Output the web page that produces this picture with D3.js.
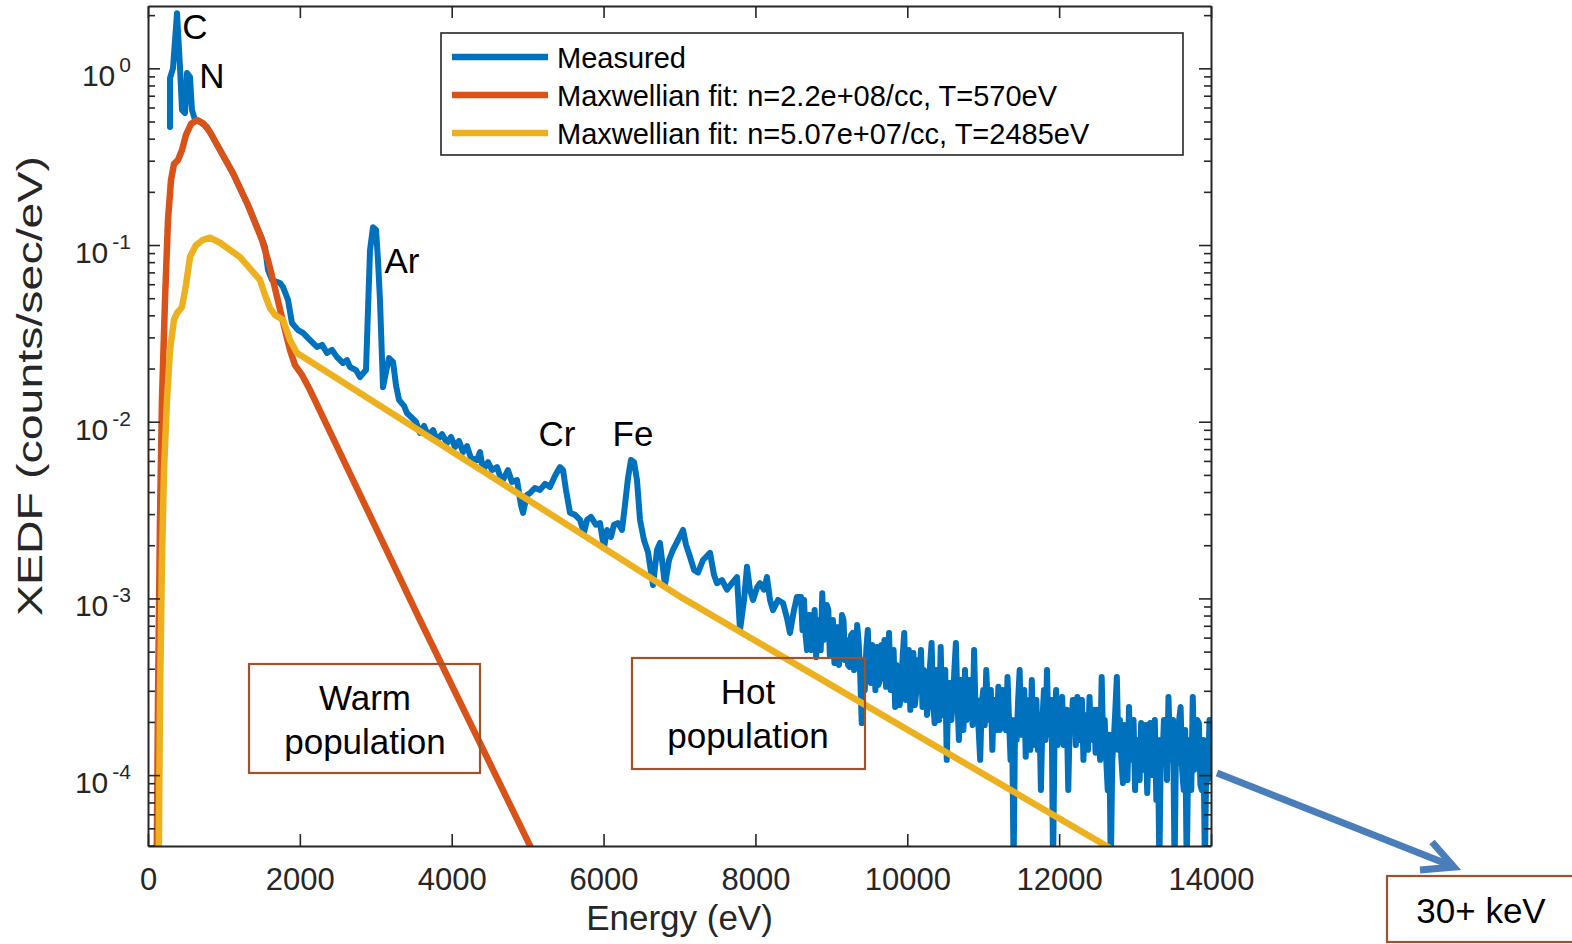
<!DOCTYPE html>
<html><head><meta charset="utf-8">
<script src="https://cdn.jsdelivr.net/npm/d3@7"></script>
<style>
html,body{margin:0;padding:0;background:#fff;}
svg{display:block;font-family:"Liberation Sans",Arial,sans-serif;}
</style></head>
<body>
<svg id="chart" width="1572" height="944"></svg>
<script>
// ---------- data ----------
// measured spectrum, low-energy part
const measuredEnergyLow = [290,290,329,382,421,448,487,514,553,579,619,685,777,948,1119,1317,1488,1541,1580,1633,1738,1778,1844,1896,1976,2041,2134,2226,2292,2357,2423,2489,2568,2621,2660,2739,2792,2871,2924,2963,3003,3029,3055,3095,3134,3174,3227,3266,3306,3372,3411,3477,3530,3582,3635,3688,3754,3806,3872,3938,3991,4043,4096,4149,4201,4254,4333,4373,4412,4478,4531,4597,4636,4675,4741,4794,4860,4912,4939,4991,5031,5097,5163,5229,5294,5360,5426,5466,5505,5558,5624,5690,5742,5782,5834,5900,5953,6005,6045,6098,6137,6190,6243,6282,6322,6361,6401,6440,6480,6532,6585,6651,6704,6743,6809,6862,6914,6980,7046,7086,7138,7191,7244,7310,7402,7454,7494,7560,7625,7691,7757,7797,7850,7889,7928,7968,8021,8060,8113,8152,8192,8231,8297,8363,8415,8455,8508,8547];
const measuredXEDFLow = [0.465,0.881,1.00,2.05,1.02,0.581,0.558,0.940,0.893,0.581,0.510,0.497,0.466,0.345,0.255,0.168,0.112,0.0975,0.0723,0.0634,0.0610,0.0578,0.0489,0.0362,0.0330,0.0318,0.0290,0.0265,0.0272,0.0245,0.0255,0.0232,0.0215,0.0223,0.0204,0.0196,0.0179,0.0196,0.0937,0.126,0.122,0.0822,0.0489,0.0157,0.0191,0.0229,0.0218,0.0161,0.0133,0.0123,0.0112,0.0105,0.00997,0.00863,0.00946,0.00830,0.00897,0.00787,0.00851,0.00757,0.00820,0.00719,0.00778,0.00673,0.00728,0.00622,0.00607,0.00673,0.00532,0.00591,0.00532,0.00553,0.00493,0.00468,0.00532,0.00456,0.00468,0.00338,0.00305,0.00385,0.00395,0.00422,0.00411,0.00445,0.00428,0.00493,0.00554,0.00532,0.00411,0.00305,0.00297,0.00278,0.00235,0.00278,0.00289,0.00261,0.00267,0.00193,0.00244,0.00223,0.00261,0.00267,0.00244,0.00338,0.00481,0.00608,0.00591,0.00468,0.00278,0.00214,0.00183,0.00119,0.00188,0.00206,0.00119,0.00165,0.00188,0.00214,0.00244,0.00201,0.00172,0.00145,0.00140,0.00165,0.00181,0.00136,0.00122,0.00127,0.00112,0.00122,0.00132,0.000662,0.000980,0.00151,0.00112,0.000980,0.00115,0.00122,0.00112,0.00132,0.000980,0.000859,0.000980,0.000942,0.000775,0.000637,0.000859,0.00102];
// measured spectrum, high-energy part (20 eV bins)
const measuredEnergyHigh = [
8600,8620,8640,8660,8680,8700,8720,8740,8760,8780,
8800,8820,8840,8860,8880,8900,8920,8940,8960,8980,
9000,9020,9040,9060,9080,9100,9120,9140,9160,9180,
9200,9220,9240,9260,9280,9300,9320,9340,9360,9380,
9400,9420,9440,9460,9480,9500,9520,9540,9560,9580,
9600,9620,9640,9660,9680,9700,9720,9740,9760,9780,
9800,9820,9840,9860,9880,9900,9920,9940,9960,9980,
10000,10020,10040,10060,10080,10100,10120,10140,10160,10180,
10200,10220,10240,10260,10280,10300,10320,10340,10360,10380,
10400,10420,10440,10460,10480,10500,10520,10540,10560,10580,
10600,10620,10640,10660,10680,10700,10720,10740,10760,10780,
10800,10820,10840,10860,10880,10900,10920,10940,10960,10980,
11000,11020,11040,11060,11080,11100,11120,11140,11160,11180,
11200,11220,11240,11260,11280,11300,11320,11340,11360,11380,
11400,11420,11440,11460,11480,11500,11520,11540,11560,11580,
11600,11620,11640,11660,11680,11700,11720,11740,11760,11780,
11800,11820,11840,11860,11880,11900,11920,11940,11960,11980,
12000,12020,12040,12060,12080,12100,12120,12140,12160,12180,
12200,12220,12240,12260,12280,12300,12320,12340,12360,12380,
12400,12420,12440,12460,12480,12500,12520,12540,12560,12580,
12600,12620,12640,12660,12680,12700,12720,12740,12760,12780,
12800,12820,12840,12860,12880,12900,12920,12940,12960,12980,
13000,13020,13040,13060,13080,13100,13120,13140,13160,13180,
13200,13220,13240,13260,13280,13300,13320,13340,13360,13380,
13400,13420,13440,13460,13480,13500,13520,13540,13560,13580,
13600,13620,13640,13660,13680,13700,13720,13740,13760,13780,
13800,13820,13840,13860,13880,13900,13920,13940,13960,13980,
14000];
const measuredXEDFHigh = [
0.00102,0.000662,0.000979,0.000621,0.000510,0.000805,0.000805,0.000510,0.000581,0.000860,
0.000465,0.000707,0.000755,0.000510,0.00107,0.000581,0.000637,0.000917,0.000860,0.000478,
0.000545,0.000755,0.000431,0.000662,0.000688,0.000420,0.000510,0.000805,0.000755,0.000448,
0.000581,0.000420,0.000409,0.000621,0.000637,0.000393,0.000478,0.000707,0.000559,0.000369,
0.000197,0.000448,0.000303,0.000510,0.000662,0.000393,0.000332,0.000545,0.000478,0.000303,
0.000531,0.000324,0.000345,0.000545,0.000448,0.000581,0.000316,0.000448,0.000637,0.000303,
0.000393,0.000510,0.000243,0.000420,0.000393,0.000249,0.000303,0.000478,0.000637,0.000266,
0.000345,0.000510,0.000234,0.000393,0.000491,0.000249,0.000303,0.000448,0.000345,0.000510,
0.000243,0.000393,0.000369,0.000219,0.000266,0.000420,0.000559,0.000266,0.000197,0.000393,
0.000303,0.000205,0.000531,0.000219,0.000266,0.000393,0.000122,0.000303,0.000332,0.000205,
0.000266,0.000393,0.000559,0.000266,0.000158,0.000345,0.000266,0.000180,0.000393,0.000205,
0.000234,0.000345,0.000266,0.000192,0.000510,0.000219,0.000266,0.000180,0.000122,0.000249,
0.000303,0.000192,0.000393,0.000249,0.000205,0.000303,0.000139,0.000266,0.000266,0.000180,
0.000316,0.000180,0.000205,0.000303,0.000266,0.000180,0.000359,0.000205,0.000122,0.000205,
0.00003,0.000205,0.000158,0.000266,0.000393,0.000169,0.000234,0.000303,0.000127,0.000266,
0.000205,0.000139,0.000345,0.000148,0.000205,0.000266,0.000139,0.000219,0.0000823,0.000205,
0.000303,0.000158,0.000393,0.000169,0.000205,0.000266,0.00003,0.000180,0.000303,0.000148,
0.000205,0.000266,0.000277,0.000148,0.000158,0.000234,0.0000823,0.000205,0.000180,0.000266,
0.000266,0.000148,0.000277,0.000158,0.000205,0.000266,0.000122,0.000219,0.000205,0.000139,
0.000277,0.000169,0.000158,0.000234,0.000134,0.000234,0.000205,0.000122,0.000359,0.000148,
0.000205,0.000122,0.0000823,0.000169,0.00003,0.000122,0.000158,0.000234,0.000359,0.000139,
0.000205,0.000122,0.0000903,0.000192,0.000158,0.0000938,0.000243,0.000122,0.000122,0.000205,
0.0000823,0.000158,0.000158,0.0000938,0.000197,0.000107,0.000122,0.000192,0.0000792,0.000148,
0.000197,0.000100,0.000158,0.000205,0.0000723,0.000158,0.00003,0.000158,0.000117,0.000205,
0.000205,0.0000938,0.000277,0.000139,0.000122,0.000205,0.00003,0.000158,0.000117,0.000205,
0.000243,0.000107,0.0000823,0.000180,0.00003,0.000122,0.000158,0.0000823,0.000277,0.000107,
0.000122,0.000205,0.000197,0.0000879,0.0000823,0.000158,0.00003,0.000139,0.0000938,0.000205,
0.000158];

// warm Maxwellian fit (T=570 eV)
const warmEnergy = [105,132,158,184,224,263,303,342,395,448,500,566,645,724,817,948,1119,1317,1501,1580,1646,1725,1804,1870,1936,2028,2134,3582,5163];
const warmXEDF   = [0.00001,0.000267,0.00277,0.0133,0.0489,0.138,0.233,0.287,0.303,0.345,0.420,0.484,0.510,0.490,0.436,0.345,0.255,0.168,0.107,0.0822,0.0634,0.0457,0.0330,0.0255,0.0209,0.0184,0.0151,0.000755,0.0000305];

// hot Maxwellian fit (T=2485 eV)
const hotEnergy = [132,158,184,211,250,290,342,382,448,500,553,632,724,817,948,1212,1475,1541,1607,1672,1778,1870,1962,7046,12801];
const hotXEDF   = [0.00001,0.000266,0.00165,0.00533,0.0133,0.0255,0.0377,0.0412,0.0446,0.0594,0.0855,0.100,0.107,0.110,0.103,0.0855,0.0634,0.0521,0.0440,0.0402,0.0377,0.0290,0.0245,0.001,0.0000358];

const legendLabels = ["Measured","Maxwellian fit: n=2.2e+08/cc, T=570eV","Maxwellian fit: n=5.07e+07/cc, T=2485eV"];
const seriesColors = ["#0072BD","#D95319","#EDB120"];

const xTickValues = [0,2000,4000,6000,8000,10000,12000,14000];
const yTickValues = [1e-4,1e-3,1e-2,1e-1,1];
const yTickExponents = ["-4","-3","-2","-1","0"];

const elementNames    = ["C","N","Ar","Cr","Fe"];
const elementEnergies = [619,843,3345,5387,6388];
const elementLevels   = [1.46,0.774,0.0695,0.00728,0.00728];

// ---------- layout ----------
const svg = d3.select("#chart");
const L=148, R=1211, T=6, B=846;
const axisColor = "#262626";
const x = d3.scaleLinear().domain([0,14000]).range([L,R]);
const y = d3.scaleLog().domain([3.97e-5,2.253]).range([B,T]);

svg.append("defs").append("clipPath").attr("id","plotclip")
  .append("rect").attr("x",L).attr("y",T).attr("width",R-L).attr("height",B-T);

// ---------- data lines ----------
const plot = svg.append("g").attr("clip-path","url(#plotclip)");
const line = d3.line().x(d=>x(d[0])).y(d=>y(d[1]));
const series = [
  d3.zip(measuredEnergyLow.concat(measuredEnergyHigh), measuredXEDFLow.concat(measuredXEDFHigh)),
  d3.zip(warmEnergy, warmXEDF),
  d3.zip(hotEnergy, hotXEDF)
];
const widths = [6, 6.5, 6.5];
series.forEach((s,i)=>{
  plot.append("path").datum(s).attr("d",line)
    .attr("fill","none").attr("stroke",seriesColors[i])
    .attr("stroke-width",widths[i]).attr("stroke-linejoin","round").attr("stroke-linecap","round");
});

// ---------- axes ----------
function styleAxis(g){
  g.selectAll("path.domain").attr("stroke",axisColor).attr("stroke-width",2);
  g.selectAll(".tick line").attr("stroke",axisColor).attr("stroke-width",1.6);
}
const xb = svg.append("g").attr("transform",`translate(0,${B})`)
  .call(d3.axisBottom(x).tickValues(xTickValues).tickSize(-12).tickSizeOuter(0).tickPadding(22).tickFormat(d3.format("d")));
styleAxis(xb);
xb.selectAll(".tick text").attr("fill",axisColor).attr("font-size",31).attr("font-family","Liberation Sans, Arial, sans-serif");

const xt = svg.append("g").attr("transform",`translate(0,${T})`)
  .call(d3.axisTop(x).tickValues(xTickValues).tickSize(-12).tickSizeOuter(0).tickFormat(""));
styleAxis(xt);

const minorY = [];
for (let e=-5;e<=0;e++){ for (let k=2;k<=9;k++){ const v=k*Math.pow(10,e); if(v>=3.97e-5 && v<=2.253) minorY.push(v);} }

const yl = svg.append("g").attr("transform",`translate(${L},0)`)
  .call(d3.axisLeft(y).tickValues(yTickValues).tickSize(-12).tickSizeOuter(0).tickFormat(""));
styleAxis(yl);
const ylm = svg.append("g").attr("transform",`translate(${L},0)`)
  .call(d3.axisLeft(y).tickValues(minorY).tickSize(-7).tickSizeOuter(0).tickFormat(""));
styleAxis(ylm); ylm.select("path.domain").remove();

const yr = svg.append("g").attr("transform",`translate(${R},0)`)
  .call(d3.axisRight(y).tickValues(yTickValues).tickSize(-12).tickSizeOuter(0).tickFormat(""));
styleAxis(yr);
const yrm = svg.append("g").attr("transform",`translate(${R},0)`)
  .call(d3.axisRight(y).tickValues(minorY).tickSize(-7).tickSizeOuter(0).tickFormat(""));
styleAxis(yrm); yrm.select("path.domain").remove();

// y tick labels 10^n
yTickValues.forEach((v,i)=>{
  const t = svg.append("text").attr("x",131).attr("y",y(v)+18)
    .attr("text-anchor","end").attr("fill",axisColor).attr("font-size",30);
  t.append("tspan").text("10");
  t.append("tspan").attr("dy",-14).attr("dx",4).attr("font-size",21).text(yTickExponents[i]);
});

// axis titles
svg.append("text").attr("x",(L+R)/2).attr("y",930).attr("text-anchor","middle")
  .attr("fill",axisColor).attr("font-size",35).text("Energy (eV)");
svg.append("text").attr("transform","translate(42,386) rotate(-90)")
  .attr("text-anchor","middle").attr("fill",axisColor).attr("font-size",35)
  .attr("textLength",460).attr("lengthAdjust","spacingAndGlyphs")
  .text("XEDF (counts/sec/eV)");

// ---------- element labels ----------
elementNames.forEach((n,i)=>{
  svg.append("text").attr("x",x(elementEnergies[i])).attr("y",y(elementLevels[i]))
    .attr("text-anchor","middle").attr("fill","#000").attr("font-size",35).text(n);
});

// ---------- legend ----------
const lg = svg.append("g");
lg.append("rect").attr("x",441).attr("y",33).attr("width",742).attr("height",122)
  .attr("fill","#fff").attr("stroke",axisColor).attr("stroke-width",1.6);
legendLabels.forEach((lab,i)=>{
  const cy = 57 + i*38;
  lg.append("line").attr("x1",452).attr("x2",548).attr("y1",cy).attr("y2",cy)
    .attr("stroke",seriesColors[i]).attr("stroke-width",6.5);
  lg.append("text").attr("x",557).attr("y",cy+10.5).attr("fill","#000")
    .attr("font-size",29).text(lab);
});

// ---------- annotation boxes ----------
const brown = "#A0522D";
function annBox(x0,y0,w,h,lines,baselines,cx){
  svg.append("rect").attr("x",x0).attr("y",y0).attr("width",w).attr("height",h)
    .attr("fill","none").attr("stroke",brown).attr("stroke-width",2.2);
  lines.forEach((s,i)=>svg.append("text").attr("x",cx).attr("y",baselines[i])
    .attr("text-anchor","middle").attr("fill","#000").attr("font-size",35).text(s));
}
annBox(249,664,231,109,["Warm","population"],[710,754],365);
annBox(632,658,233,111,["Hot","population"],[704,748],748);
annBox(1387,876,200,66,["30+ keV"],[923],1481);

// arrow
const arrowColor = "#4A7EBB";
svg.append("line").attr("x1",1217).attr("y1",773).attr("x2",1452).attr("y2",866)
  .attr("stroke",arrowColor).attr("stroke-width",7);
svg.append("polyline").attr("points","1432,842 1454,867 1420,870")
  .attr("fill","none").attr("stroke",arrowColor).attr("stroke-width",7)
  .attr("stroke-linejoin","miter");
</script>
</body></html>
